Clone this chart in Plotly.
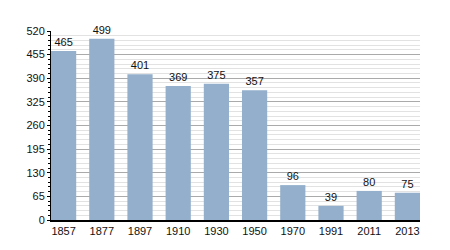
import plotly.graph_objects as go

years = ["1857", "1877", "1897", "1910", "1930", "1950", "1970", "1991", "2011", "2013"]
population = [465, 499, 401, 369, 375, 357, 96, 39, 80, 75]
y_ticks = [0, 65, 130, 195, 260, 325, 390, 455, 520]

fig = go.Figure(go.Bar(
    x=years, y=population,
    marker=dict(color="#93afcb", line=dict(width=0)),
    text=[str(v) for v in population],
    textposition="outside",
    textfont=dict(size=11, color="#111"),
    cliponaxis=False,
))

fig.update_layout(
    width=450, height=250,
    margin=dict(l=51, r=30, t=31, b=30),
    paper_bgcolor="white", plot_bgcolor="white",
    font=dict(family="Liberation Sans, Arial, sans-serif", size=11, color="#111"),
    bargap=0.34,
    showlegend=False,
)
fig.update_xaxes(
    type="category",
    range=[-0.33, 9.33],
    showline=True, linecolor="black", linewidth=2,
    showgrid=False, ticks="", tickfont=dict(size=11),
)
fig.update_yaxes(
    range=[0, 520],
    tickvals=y_ticks,
    showline=True, linecolor="black", linewidth=1,
    showgrid=True, gridcolor="#aaaaaa", gridwidth=1,
    ticks="outside", ticklen=3, tickcolor="black",
    minor=dict(dtick=13, tick0=0, showgrid=True, gridcolor="#e2e2e2", gridwidth=1,
               ticks="outside", ticklen=2, tickcolor="black"),
    zeroline=False,
    tickfont=dict(size=11),
)

fig.write_html("out.html")
